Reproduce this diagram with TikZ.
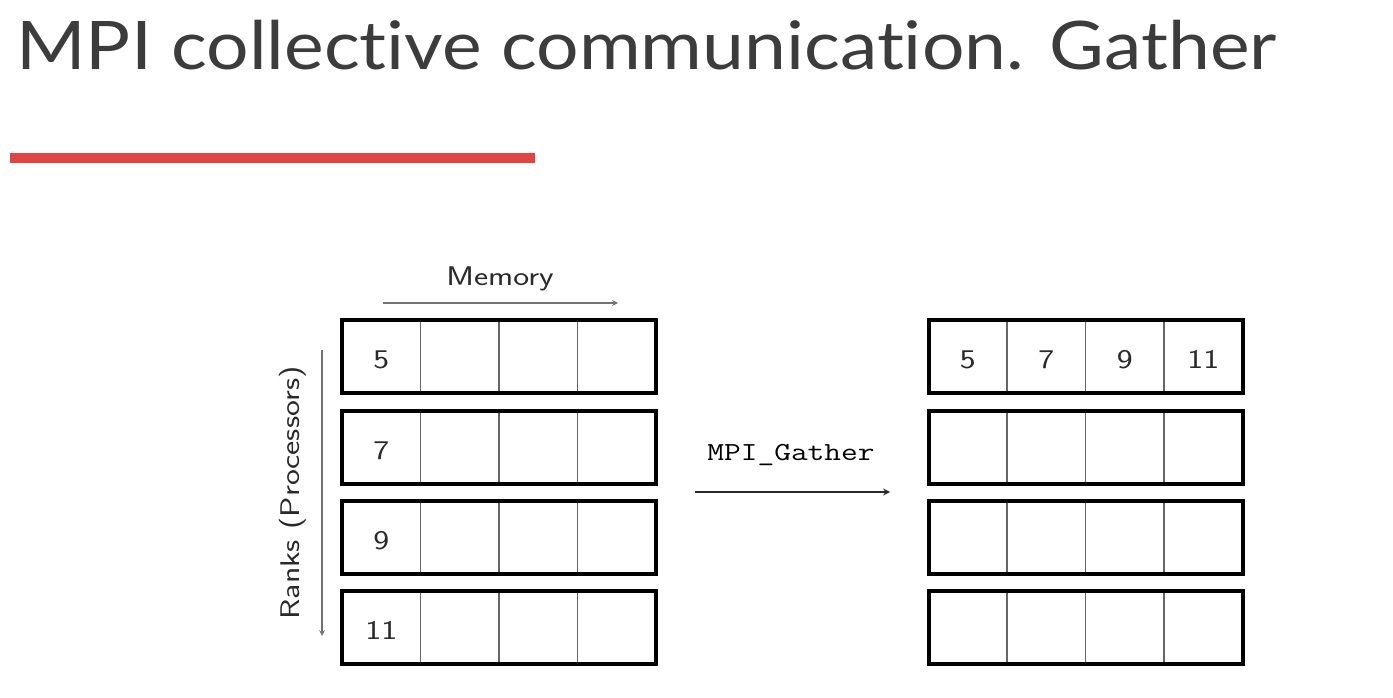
\documentclass[tikz,border=0pt]{standalone}
\usepackage{fontspec}
\newfontfamily\titlefont{Lato}[Ligatures=NoCommon]
\usetikzlibrary{calc}
\definecolor{slidered}{HTML}{E04444}
\definecolor{inkgray}{HTML}{2A2A2A}
\definecolor{titlegray}{HTML}{3C3C3C}
\newcommand\wide[1]{\scalebox{1.25}[1]{#1}}
\tikzset{
  row/.style={draw,line width=4pt,minimum width=314pt,minimum height=73pt,inner sep=0pt,outer sep=0pt},
  cellnum/.style={font=\sffamily\fontsize{27}{27}\selectfont,text=inkgray},
  axis/.style={->,draw=black!55,line width=1.5pt},
  divider/.style={draw=black!60,line width=1.5pt,shorten <=2pt,shorten >=2pt},
}
\begin{document}
\begin{tikzpicture}[x=1pt,y=-1pt,>=stealth]
  \useasboundingbox[fill=white](0,0)rectangle(1393,698);
  \node[anchor=base west,inner sep=0pt,text=titlegray,font=\titlefont\fontsize{67}{67}\selectfont](title)at(16,70){\scalebox{1.12}[1]{MPI collective communication. Gather}};
  \fill[slidered](10,153)rectangle(535,163);
  % ranks before and after the gather
  \foreach \r/\y/\v in {1/356.5/5,2/447.5/7,3/537.5/9,4/627.5/11}{
    \node[row](L\r)at(499,\y){};
    \node[row](R\r)at(1085.5,\y){};
    \foreach \c in {1,2,3}{
      \draw[divider]($(L\r.north west)!\c/4!(L\r.north east)$)--($(L\r.south west)!\c/4!(L\r.south east)$);
      \draw[divider]($(R\r.north west)!\c/4!(R\r.north east)$)--($(R\r.south west)!\c/4!(R\r.south east)$);
    }
    \node[cellnum](n\r)at($(L\r.west)+(39.25,3)$){\wide{\v}};
  }
  \foreach \c/\v in {0/5,1/7,2/9,3/11}
    \node[cellnum](m\c)at($(R1.west)+(39.25+78.5*\c,3)$){\wide{\v}};
  % axes
  \coordinate(memA)at(383,303);\coordinate(memB)at(618,303);
  \draw[axis](memA)--(memB);
  \node[cellnum,anchor=base](memory)at(500,285){\wide{Memory}};
  \coordinate(rankA)at(322,350);\coordinate(rankB)at(322,636);
  \draw[axis](rankA)--(rankB);
  \node[cellnum,rotate=90](ranks)at(293,493){\wide{Ranks (Processors)}};
  % the call
  \coordinate(gatherA)at(695,492);\coordinate(gatherB)at(890,492);
  \draw[->,draw=inkgray,line width=2pt](gatherA)--(gatherB);
  \node[anchor=base,text=black,font=\ttfamily\fontsize{26}{26}\selectfont](gather)at(791,460){\wide{MPI\_Gather}};
\end{tikzpicture}
\end{document}
